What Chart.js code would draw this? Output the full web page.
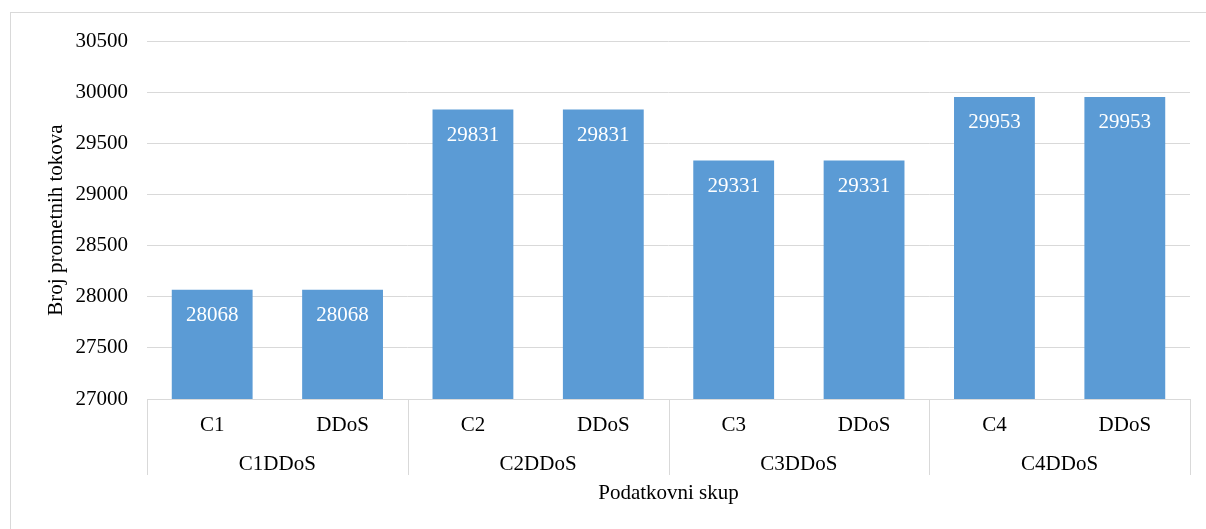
<!DOCTYPE html>
<html>
<head>
<meta charset="utf-8">
<script src="https://cdn.jsdelivr.net/npm/chart.js@4"></script>
<style>
  html, body { margin: 0; padding: 0; background: #fff; }
  #wrap { position: relative; width: 1206px; height: 529px; overflow: hidden; }
  #frame { position: absolute; left: 10px; top: 12px; width: 1300px; height: 600px;
           border-left: 1px solid #d9d9d9; border-top: 1px solid #d9d9d9; }
  canvas { position: absolute; left: 0; top: 0; }
</style>
</head>
<body>
<div id="wrap">
  <div id="frame"></div>
  <canvas id="tokovi" width="1206" height="529"></canvas>
</div>
<script>
// podaci
const kategorije = ['C1', 'DDoS', 'C2', 'DDoS', 'C3', 'DDoS', 'C4', 'DDoS'];
const grupe = ['C1DDoS', 'C2DDoS', 'C3DDoS', 'C4DDoS'];
const brojTokova = [28068, 28068, 29831, 29831, 29331, 29331, 29953, 29953];
const yMin = 27000, yMax = 30500, yKorak = 500;

const font = 'Liberation Serif, Times New Roman, serif';
const sivaLinija = '#d9d9d9';

// crta razdjelnike grupa ispod osi i vrijednosti unutar stupaca
const dodaci = {
    id: 'dodaci',
    afterDraw(chart) {
        const ctx = chart.ctx;
        const x = chart.scales.x;
        const area = chart.chartArea;

        ctx.save();
        ctx.strokeStyle = sivaLinija;
        ctx.lineWidth = 1;
        let granice = [area.left];
        for (let i = 2; i < kategorije.length; i += 2) {
            granice.push((x.getPixelForValue(i - 1) + x.getPixelForValue(i)) / 2);
        }
        granice.push(area.right);
        granice.forEach(g => {
            let gx = Math.round(g) + 0.5;
            ctx.beginPath();
            ctx.moveTo(gx, area.bottom);
            ctx.lineTo(gx, area.bottom + 76);
            ctx.stroke();
        });

        // vrijednosti
        ctx.fillStyle = '#ffffff';
        ctx.font = '21px ' + font;
        ctx.textAlign = 'center';
        ctx.textBaseline = 'middle';
        chart.getDatasetMeta(0).data.forEach((bar, i) => {
            ctx.fillText(String(brojTokova[i]), bar.x, bar.y + 26);
        });
        ctx.restore();
    }
};

new Chart(document.getElementById('tokovi'), {
    type: 'bar',
    data: {
        labels: kategorije,
        datasets: [{
            data: brojTokova,
            backgroundColor: '#5b9bd5',
            categoryPercentage: 1,
            barPercentage: 0.62
        }]
    },
    options: {
        responsive: false,
        animation: false,
        layout: { padding: { left: 0, top: 41, right: 16, bottom: 23 } },
        plugins: { legend: { display: false }, tooltip: { enabled: false } },
        scales: {
            y: {
                min: yMin,
                max: yMax,
                ticks: {
                    stepSize: yKorak,
                    color: '#000',
                    padding: 19,
                    font: { family: font, size: 21 },
                    callback: v => String(v)
                },
                grid: { color: sivaLinija, drawTicks: false },
                border: { display: false },
                title: {
                    display: true,
                    text: 'Broj prometnih tokova',
                    color: '#000',
                    font: { family: font, size: 21 },
                    padding: { top: 44, bottom: 0 }
                },
                afterFit(s) { s.width = 147; }
            },
            x: {
                weight: 0,
                ticks: { color: '#000', padding: 6, maxRotation: 0, font: { family: font, size: 21 } },
                grid: { display: false },
                border: { display: true, color: sivaLinija },
                afterFit(s) { s.height = 39; }
            },
            x2: {
                type: 'category',
                position: 'bottom',
                weight: 1,
                labels: grupe,
                offset: true,
                ticks: { color: '#000', padding: 6, maxRotation: 0, font: { family: font, size: 21 } },
                grid: { display: false },
                border: { display: false },
                title: {
                    display: true,
                    text: 'Podatkovni skup',
                    color: '#000',
                    font: { family: font, size: 21 },
                    padding: { top: 0, bottom: 0 }
                },
                afterFit(s) { s.height = 68; }
            }
        }
    },
    plugins: [dodaci]
});
</script>
</body>
</html>
